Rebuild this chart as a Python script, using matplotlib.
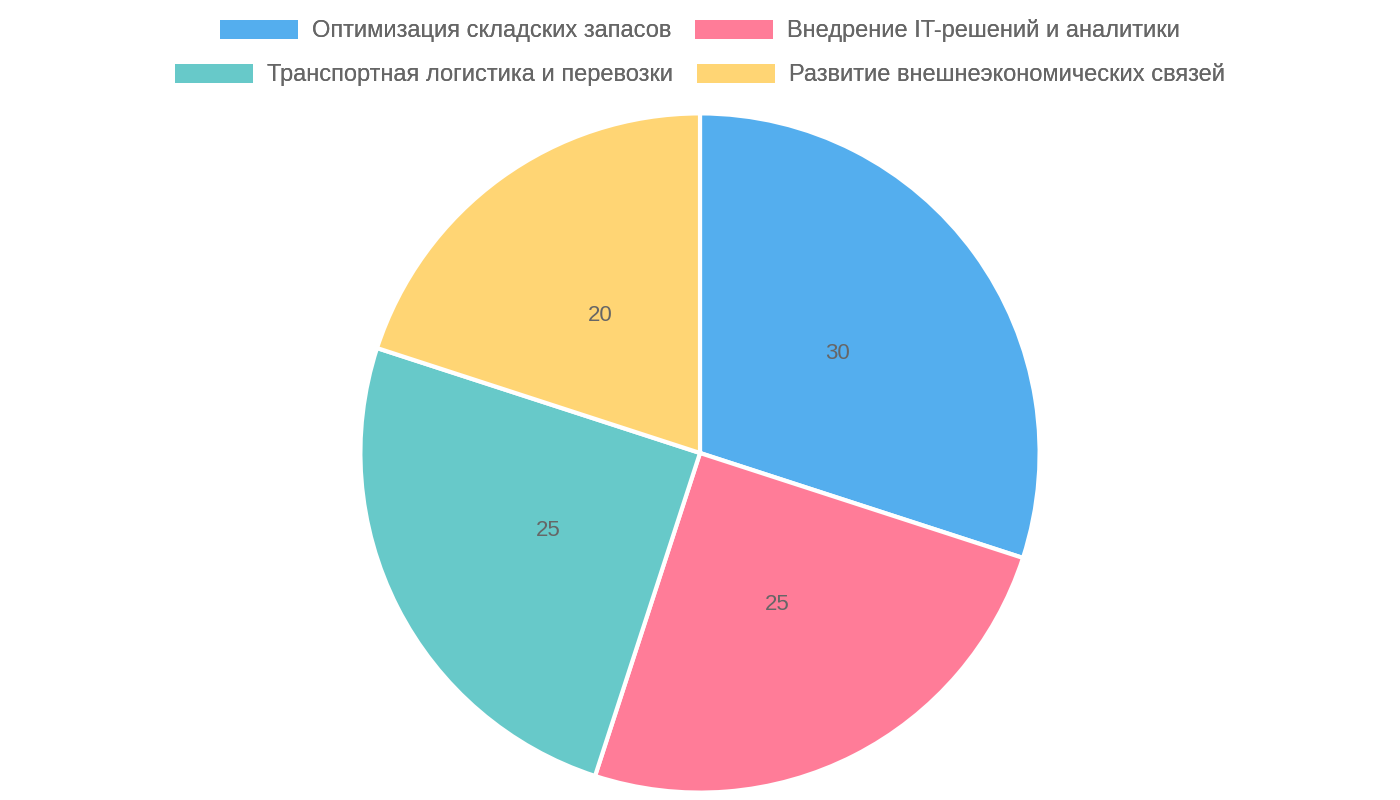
import matplotlib.pyplot as plt
from matplotlib.patches import Patch

plt.rcParams['font.family'] = ['Liberation Sans', 'DejaVu Sans']

labels = ["Оптимизация складских запасов", "Внедрение IT-решений и аналитики",
          "Транспортная логистика и перевозки", "Развитие внешнеэкономических связей"]
values = [30, 25, 25, 20]
colors = ["#54AEEE", "#FF7C98", "#67C9C9", "#FFD574"]
text_color = "#666666"

fig = plt.figure(figsize=(14, 8), dpi=100)
ax = fig.add_axes([357 / 1400, 4 / 800, 686 / 1400, 686 / 800])
wedges, texts = ax.pie(values, colors=colors, startangle=90, counterclock=False,
                       labels=[str(v) for v in values], labeldistance=0.5,
                       wedgeprops=dict(edgecolor="white", linewidth=3))
for t in texts:
    t.set_color(text_color)
    t.set_fontsize(16)
    t.set_ha("center")
    t.set_va("center")
ax.set_xlim(-1.01, 1.01)
ax.set_ylim(-1.01, 1.01)
ax.set_aspect("equal")

def row(idx, y):
    handles = [Patch(facecolor=colors[i], edgecolor="none") for i in idx]
    leg = fig.legend(handles, [labels[i] for i in idx], loc="center", ncol=2,
                     bbox_to_anchor=(0.5, y), frameon=False, fontsize=17,
                     handlelength=3.3, handleheight=0.9, columnspacing=1.0,
                     handletextpad=0.6, labelcolor=text_color)
    fig.add_artist(leg)

row([0, 1], 1 - 31 / 800)
row([2, 3], 1 - 75 / 800)

fig.savefig("out.png", dpi=100)
